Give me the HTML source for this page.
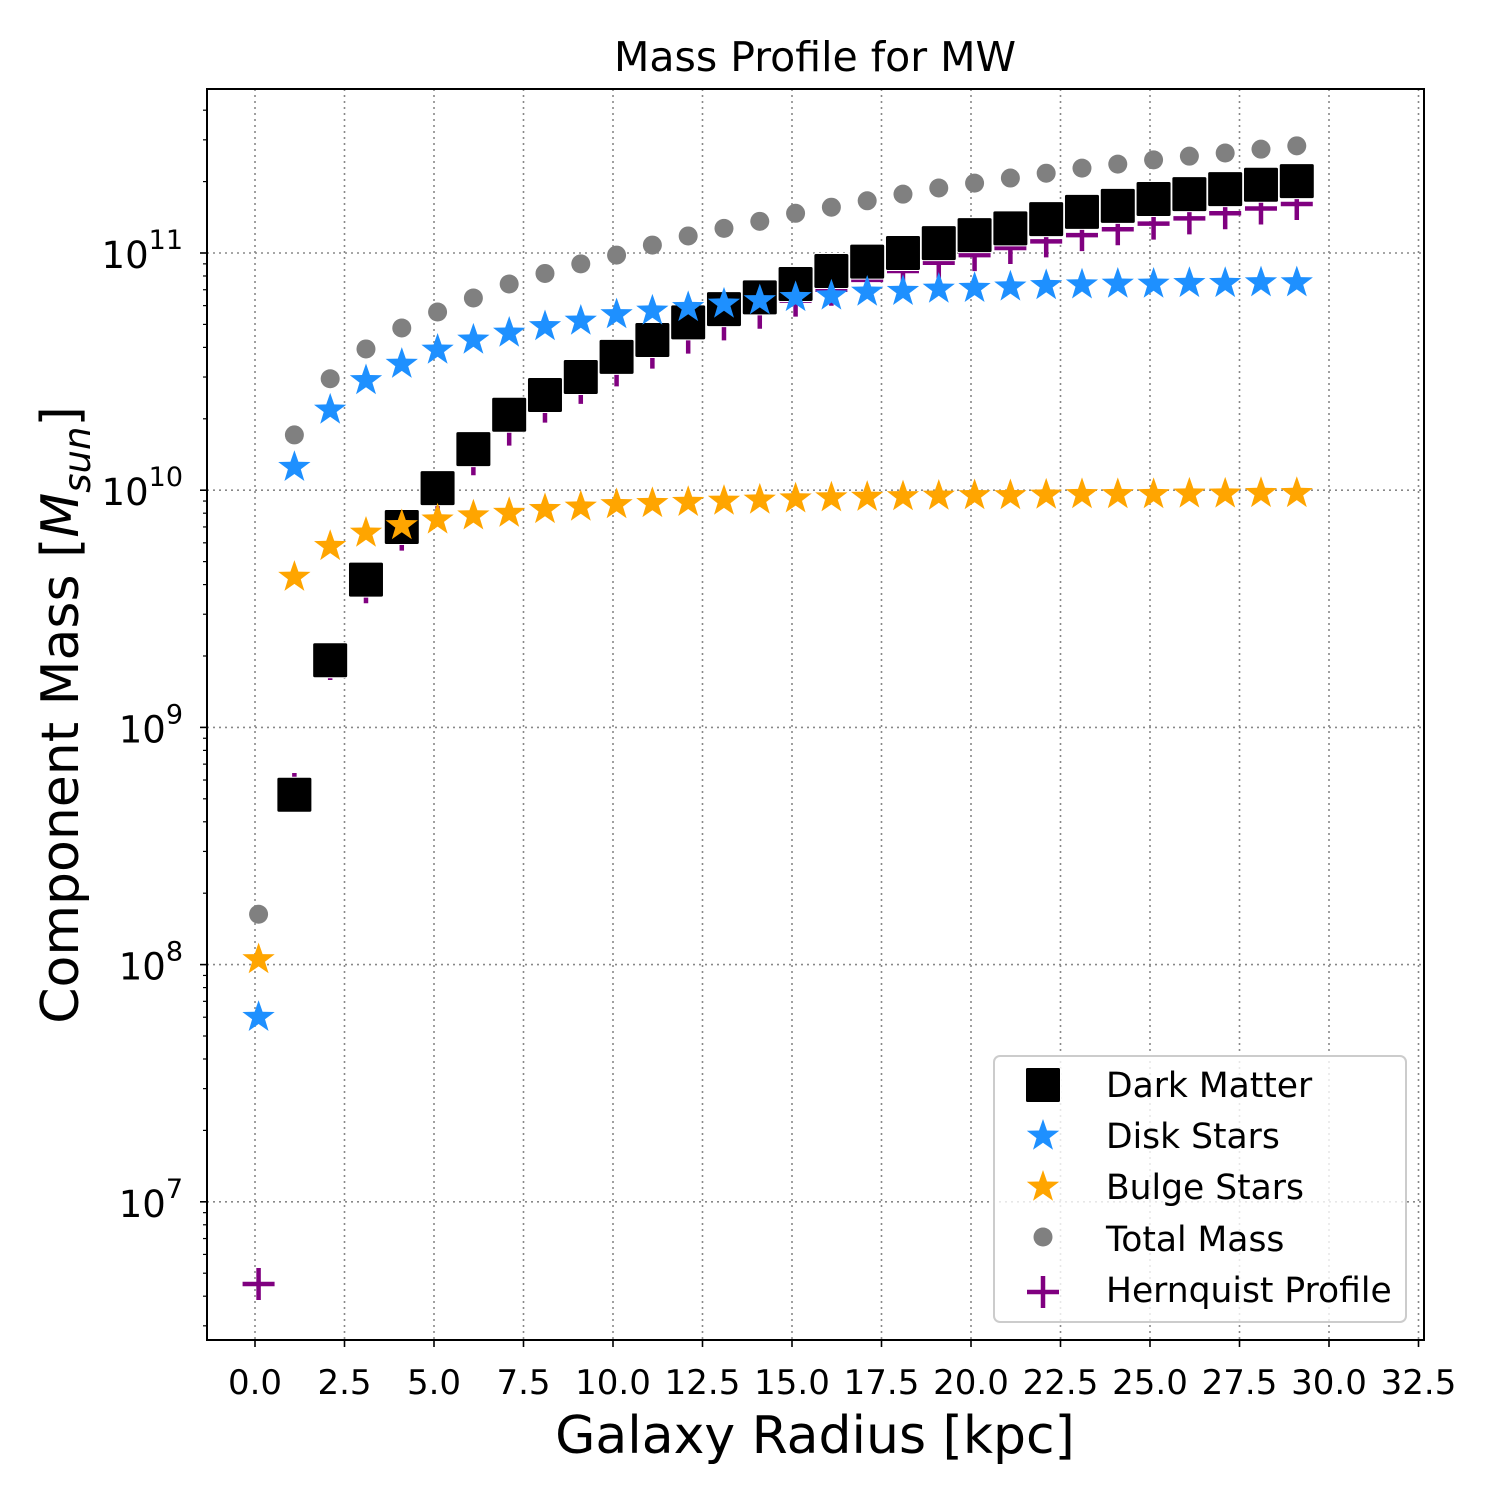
<!DOCTYPE html>
<html><head><meta charset="utf-8"><style>
body{margin:0;background:#fff}
svg text{font-family:"DejaVu Sans","Liberation Sans",sans-serif}
</style></head><body>
<svg id="chart" width="1500" height="1500" viewBox="0 0 1500 1500" xmlns="http://www.w3.org/2000/svg">
<rect width="1500" height="1500" fill="#fff"/>
<g id="grid"></g>
<g id="marks"></g>
<rect x="207" y="89" width="1217" height="1251" fill="none" stroke="#000" stroke-width="2"/>
<g id="ticks"></g>
<text x="815" y="71" font-size="41" text-anchor="middle">Mass Profile for MW</text>
<text x="815" y="1453" font-size="52" text-anchor="middle">Galaxy Radius [kpc]</text>
<text transform="translate(78,715) rotate(-90)" font-size="52" text-anchor="middle">Component Mass [<tspan font-style="italic">M</tspan><tspan font-style="italic" font-size="37" dy="12">sun</tspan><tspan dy="-12">]</tspan></text>
<g id="legend">
<rect x="994" y="1056" width="412" height="266" rx="6" fill="#fff" fill-opacity="0.8" stroke="#ccc" stroke-width="2"/>
</g>
</svg>
<script>
const radii=[0.1,1.1,2.1,3.1,4.1,5.1,6.1,7.1,8.1,9.1,10.1,11.1,12.1,13.1,14.1,15.1,16.1,17.1,18.1,19.1,20.1,21.1,22.1,23.1,24.1,25.1,26.1,27.1,28.1,29.1];
const darkMatter=[0,5.2e8,1.92e9,4.2e9,7.0e9,1.02e10,1.49e10,2.08e10,2.52e10,3.0e10,3.65e10,4.3e10,5.1e10,5.8e10,6.5e10,7.4e10,8.4e10,9.2e10,1.0e11,1.1e11,1.19e11,1.27e11,1.39e11,1.49e11,1.58e11,1.69e11,1.77e11,1.86e11,1.94e11,2.01e11];
const diskStars=[6.0e7,1.25e10,2.18e10,2.9e10,3.4e10,3.9e10,4.3e10,4.6e10,4.9e10,5.17e10,5.5e10,5.7e10,5.9e10,6.1e10,6.3e10,6.5e10,6.6e10,6.85e10,6.9e10,7.05e10,7.1e10,7.2e10,7.3e10,7.35e10,7.4e10,7.4e10,7.45e10,7.45e10,7.5e10,7.5e10];
const bulgeStars=[1.05e8,4.3e9,5.8e9,6.6e9,7.1e9,7.5e9,7.8e9,8.0e9,8.3e9,8.5e9,8.7e9,8.8e9,8.9e9,9.0e9,9.1e9,9.2e9,9.3e9,9.35e9,9.4e9,9.45e9,9.5e9,9.5e9,9.55e9,9.6e9,9.6e9,9.6e9,9.65e9,9.65e9,9.7e9,9.7e9];
const totalMass=[1.63e8,1.71e10,2.95e10,3.94e10,4.83e10,5.64e10,6.46e10,7.4e10,8.2e10,9.0e10,9.8e10,1.08e11,1.18e11,1.27e11,1.36e11,1.47e11,1.56e11,1.66e11,1.77e11,1.88e11,1.97e11,2.07e11,2.17e11,2.28e11,2.37e11,2.47e11,2.56e11,2.64e11,2.74e11,2.83e11];
const hernquist=[4.5e6,5.5e8,1.85e9,3.9e9,6.5e9,9.5e9,1.35e10,1.8e10,2.25e10,2.7e10,3.2e10,3.8e10,4.4e10,5.0e10,5.6e10,6.3e10,7.0e10,7.7e10,8.4e10,9.1e10,9.8e10,1.05e11,1.12e11,1.19e11,1.26e11,1.33e11,1.4e11,1.47e11,1.54e11,1.61e11];
const xTicks=[0,2.5,5,7.5,10,12.5,15,17.5,20,22.5,25,27.5,30,32.5];
const yTickExp=[7,8,9,10,11];

const NS="http://www.w3.org/2000/svg";
const X0=255,XS=35.8,Y11=253,DEC=237.2,L=207,R=1424,T=89,B=1340;
function xs(v){return X0+v*XS;}
function ys(v){return Y11-(Math.log10(v)-11)*DEC;}
function mk(tag,attrs,parent){const e=document.createElementNS(NS,tag);for(const k in attrs)e.setAttribute(k,attrs[k]);parent.appendChild(e);return e;}
const grid=document.getElementById('grid'),marks=document.getElementById('marks'),ticks=document.getElementById('ticks');

xTicks.forEach(t=>{const x=xs(t);
 const g=mk('line',{x1:x,x2:x,y1:T,y2:B,stroke:'#888','stroke-width':1.6,'stroke-dasharray':'2 4'},grid);
 
 
 mk('line',{x1:x,x2:x,y1:B,y2:B+7,stroke:'#000','stroke-width':1.6},ticks);
 const tx=mk('text',{x:x,y:B+54,'font-size':34,'text-anchor':'middle'},ticks);
 tx.textContent=t.toFixed(1);
 
 
});
yTickExp.forEach(e=>{const y=ys(Math.pow(10,e));
 const g=mk('line',{x1:L,x2:R,y1:y,y2:y,stroke:'#888','stroke-width':1.6,'stroke-dasharray':'2 4'},grid);
 
 
 mk('line',{x1:L-7,x2:L,y1:y,y2:y,stroke:'#000','stroke-width':1.6},ticks);
 const tx=mk('text',{x:L-24,y:y+15,'font-size':37,'text-anchor':'end'},ticks);
 
 
 const a=mk('tspan',{},tx);a.textContent='10';
 const b=mk('tspan',{dy:-19,'font-size':27},tx);b.textContent=String(e);
});
for(let e=6;e<=11;e++)for(let m=2;m<=9;m++){const v=m*Math.pow(10,e);const y=ys(v);if(y<T||y>B)continue;
 mk('line',{x1:L-4,x2:L,y1:y,y2:y,stroke:'#000','stroke-width':1.2},ticks);}

function star(cx,cy,r,fill,parent){let p='';for(let i=0;i<10;i++){const rr=i%2?r*0.4:r;const a=-Math.PI/2+i*Math.PI/5;p+=(i?'L':'M')+(cx+rr*Math.cos(a)).toFixed(1)+' '+(cy+rr*Math.sin(a)).toFixed(1);}
 return mk('path',{d:p+'Z',fill:fill},parent);}
function plus(cx,cy,parent){return mk('path',{d:`M${cx-16} ${cy}H${cx+16}M${cx} ${cy-16}V${cy+16}`,stroke:'purple','stroke-width':4.5},parent);}
function square(cx,cy,parent){return mk('rect',{x:cx-17.5,y:cy-17.5,width:35,height:35,rx:2,fill:'#000',stroke:'#fff','stroke-width':1},parent);}
function dot(cx,cy,parent){return mk('circle',{cx:cx,cy:cy,r:9.5,fill:'grey'},parent);}

radii.forEach((r,i)=>{if(hernquist[i]>0){const e=plus(xs(r),ys(hernquist[i]),marks);
 
 }});
radii.forEach((r,i)=>{if(darkMatter[i]>0){const e=square(xs(r),ys(darkMatter[i]),marks);
 
 }});
radii.forEach((r,i)=>{if(diskStars[i]>0){const e=star(xs(r),ys(diskStars[i]),17,'dodgerblue',marks);
 
 }});
radii.forEach((r,i)=>{if(bulgeStars[i]>0){const e=star(xs(r),ys(bulgeStars[i]),17,'orange',marks);
 
 }});
radii.forEach((r,i)=>{if(totalMass[i]>0){const e=dot(xs(r),ys(totalMass[i]),marks);
 
 }});

const lg=document.getElementById('legend');
const labels=['Dark Matter','Disk Stars','Bulge Stars','Total Mass','Hernquist Profile'];
const ly=[1085,1136,1187,1239,1290];
labels.forEach((lab,i)=>{const cx=1043,cy=ly[i];let e;
 if(i===0)e=square(cx,cy,lg);else if(i===1)e=star(cx,cy,17,'dodgerblue',lg);else if(i===2)e=star(cx,cy,17,'orange',lg);else if(i===3)e=dot(cx,cy-2,lg);else e=plus(cx,cy+2,lg);
 
 
 const t=mk('text',{x:1106,y:cy+12,'font-size':34.5},lg);t.textContent=lab;
 
 
});
</script>
</body></html>
